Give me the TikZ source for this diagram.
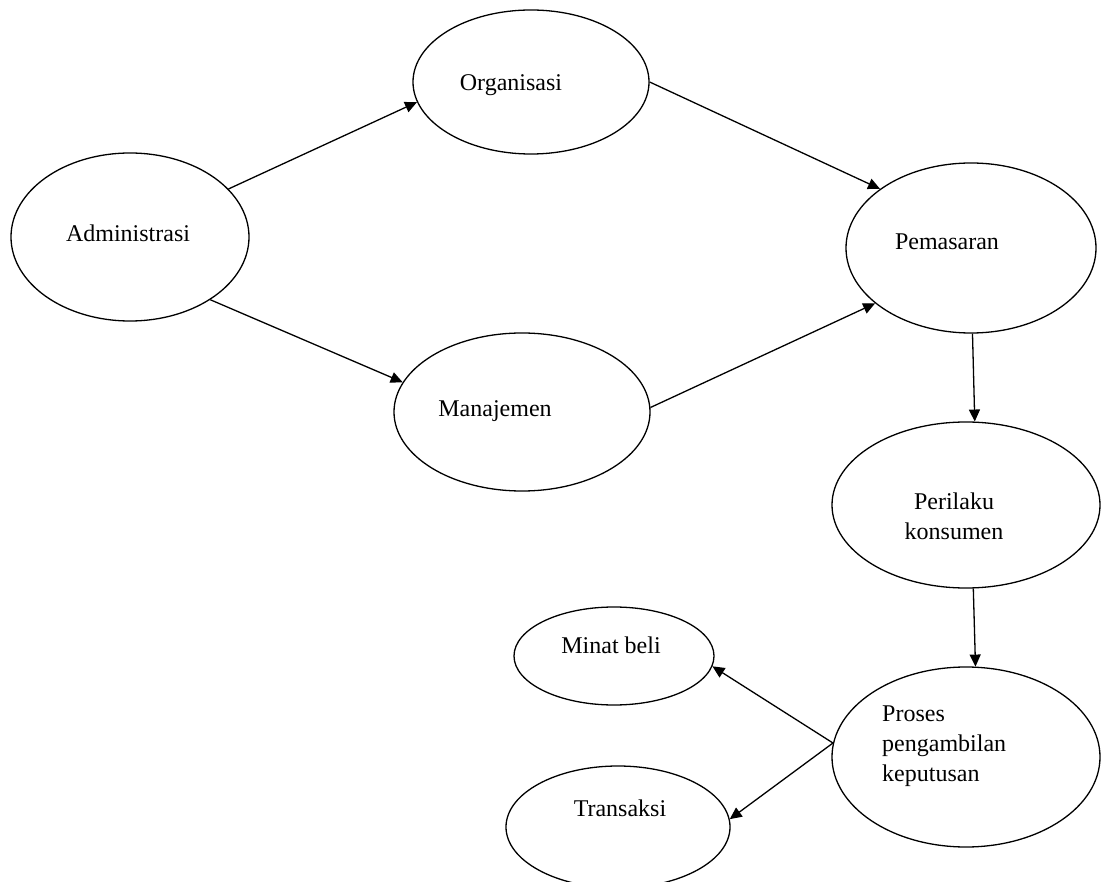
\documentclass[tikz,border=0pt]{standalone}
\usepackage{fontspec}
\setmainfont{Liberation Serif}
\usetikzlibrary{shapes.geometric,arrows.meta}
\begin{document}
\begin{tikzpicture}[x=1pt,y=-1pt,
  oval/.style={draw=black,line width=1.3pt,ellipse,inner sep=0pt},
  lbl/.style={font=\fontsize{24}{30}\selectfont,inner sep=0pt},
  arr/.style={draw=black,line width=1.3pt,-{Triangle[length=12pt,width=11pt]}}]
\useasboundingbox[fill=white] (0,0) rectangle (1101,882);
\node[oval,minimum width=238pt,minimum height=168pt] (adm) at (130,237) {};
\node[oval,minimum width=236pt,minimum height=144pt] (org) at (531,82) {};
\node[oval,minimum width=256pt,minimum height=158pt] (man) at (522,412) {};
\node[oval,minimum width=250pt,minimum height=170pt] (pem) at (971,248) {};
\node[oval,minimum width=268pt,minimum height=166pt] (per) at (966,505) {};
\node[oval,minimum width=200pt,minimum height=98pt] (min) at (614,656) {};
\node[oval,minimum width=224pt,minimum height=122pt] (tra) at (618,827) {};
\node[oval,minimum width=268pt,minimum height=180pt] (pro) at (966,757) {};
\node[lbl] (tadm) at (128,233) {Administrasi};
\node[lbl] (torg) at (511,85) {Organisasi};
\node[lbl] (tman) at (495,411) {Manajemen};
\node[lbl] (tpem) at (947,242) {Pemasaran};
\node[lbl,align=center] (tper) at (954,516) {Perilaku\\konsumen};
\node[lbl,align=left,anchor=west] (tpro) at (882,746) {Proses\\pengambilan\\keputusan};
\node[lbl] (tmin) at (611,645) {Minat beli};
\node[lbl] (ttra) at (620,808) {Transaksi};
\draw[arr] (adm.26) -- (org.190);
\draw[arr] (adm.-38) -- (man.166);
\draw[arr] (org.0) -- (pem.147);
\draw[arr] (man.2) -- (pem.210);
\draw[arr] (pem.-89) -- (per.84);
\draw[arr] (per.-85) -- (pro.84);
\draw[arr] (pro.174) -- (min.-6);
\draw[arr] (pro.174) -- (tra.4);
\end{tikzpicture}
\end{document}
